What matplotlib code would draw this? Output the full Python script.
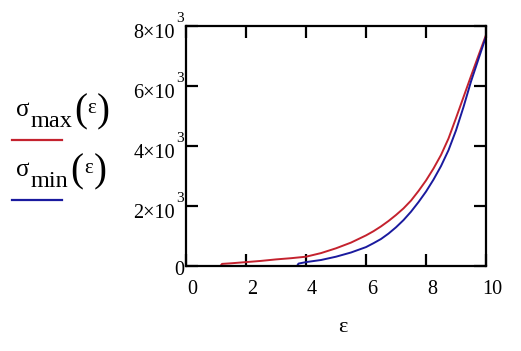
import matplotlib
matplotlib.use("Agg")
import matplotlib.pyplot as plt
from matplotlib.transforms import ScaledTranslation, offset_copy
from matplotlib.lines import Line2D

# ---- data ----
eps = [0, 1.15, 1.2, 1.5, 2, 2.5, 3, 3.5, 3.7, 3.75, 4, 4.5, 5, 5.5, 6,
       6.25, 6.5, 6.75, 7, 7.25, 7.5, 7.75, 8, 8.25, 8.5, 8.75, 9, 9.25,
       9.5, 9.75, 10]
sigma_max = [0, 0, 70, 90, 130, 170, 220, 260, 280, 285, 310, 430, 590, 780,
             1020, 1160, 1320, 1500, 1700, 1920, 2180, 2500, 2850, 3250,
             3700, 4250, 4930, 5630, 6330, 7020, 7700]
sigma_min = [0, 0, 0, 0, 0, 0, 0, 0, 0, 80, 130, 200, 310, 450, 630, 760,
             900, 1080, 1290, 1530, 1810, 2130, 2480, 2880, 3330, 3860,
             4520, 5300, 6150, 6900, 7650]

x_ticks = [0, 2, 4, 6, 8, 10]
x_tick_labels = ["0", "2", "4", "6", "8", "10"]
y_ticks = [0, 2000, 4000, 6000, 8000]
y_tick_mantissa = ["0", "2×10", "4×10", "6×10", "8×10"]
y_tick_exponent = ["", "3", "3", "3", "3"]

RED = "#C4222E"
BLUE = "#1A1A9E"
SERIF = "Liberation Serif"
TICK_FS = 14.5

W, H = 521, 351
DPI = 100
fig = plt.figure(figsize=(W / DPI, H / DPI), dpi=DPI)
fig.patch.set_facecolor("white")


def fx(x):
    return x / W


def fy(y):
    return 1 - y / H


# axes box: left 186, right 486, top 26, bottom 266 (pixels)
ax = fig.add_axes([fx(186), fy(266), (486 - 186) / W, (266 - 26) / H])
ax.plot(eps, sigma_max, color=RED, lw=1.4)
ax.plot(eps, sigma_min, color=BLUE, lw=1.4)
ax.set_xlim(0, 10)
ax.set_ylim(0, 8000)

for s in ax.spines.values():
    s.set_linewidth(1.6)
    s.set_color("black")

ax.tick_params(direction="in", length=8.5, width=1.6, top=True, right=True,
               colors="black")
ax.set_xticks(x_ticks)
ax.set_xticklabels(x_tick_labels, fontfamily=SERIF, fontsize=TICK_FS)
ax.tick_params(axis="x", pad=10)
shift = ScaledTranslation(6 / DPI, 0, fig.dpi_scale_trans)
for lab in ax.get_xticklabels():
    lab.set_transform(lab.get_transform() + shift)

ax.set_yticks(y_ticks)
ax.tick_params(axis="y", labelleft=False)
ytr = ax.get_yaxis_transform()
for v, m, e in zip(y_ticks, y_tick_mantissa, y_tick_exponent):
    if e:
        t = offset_copy(ytr, fig=fig, x=-11, y=-11.5, units="dots")
        ax.text(0, v, m, transform=t, ha="right", va="baseline",
                fontfamily=SERIF, fontsize=TICK_FS)
        t2 = offset_copy(ytr, fig=fig, x=-9.5, y=3.5, units="dots")
        ax.text(0, v, e, transform=t2, ha="left", va="baseline",
                fontfamily=SERIF, fontsize=11)
    else:
        t = offset_copy(ytr, fig=fig, x=-1.5, y=-9, units="dots")
        ax.text(0, v, m, transform=t, ha="right", va="baseline",
                fontfamily=SERIF, fontsize=TICK_FS)

# x axis label
fig.text(fx(343), fy(332), "ε", ha="center", va="baseline",
         fontfamily=SERIF, fontsize=16)

# ---- legend on the left ----
rows = [("max", RED, 0, 74), ("min", BLUE, 60, 70.5)]
for sub, col, dy, px0 in rows:
    fig.text(fx(16), fy(116.5 + dy), "σ", ha="left", va="baseline",
             fontfamily=SERIF, fontsize=18)
    fig.text(fx(30.5), fy(127 + dy), sub, ha="left", va="baseline",
             fontfamily=SERIF, fontsize=17.5)
    fig.text(fx(px0), fy(121 + dy), "(", ha="left", va="baseline",
             fontfamily=SERIF, fontsize=28)
    fig.text(fx(px0 + 13.5), fy(113 + dy), "ε", ha="left", va="baseline",
             fontfamily=SERIF, fontsize=15)
    fig.text(fx(px0 + 23), fy(121 + dy), ")", ha="left", va="baseline",
             fontfamily=SERIF, fontsize=28)
    fig.add_artist(Line2D([fx(12), fx(62)], [fy(140 + dy), fy(140 + dy)],
                          color=col, lw=1.6, transform=fig.transFigure))

fig.savefig("out.png", dpi=DPI, facecolor="white")
